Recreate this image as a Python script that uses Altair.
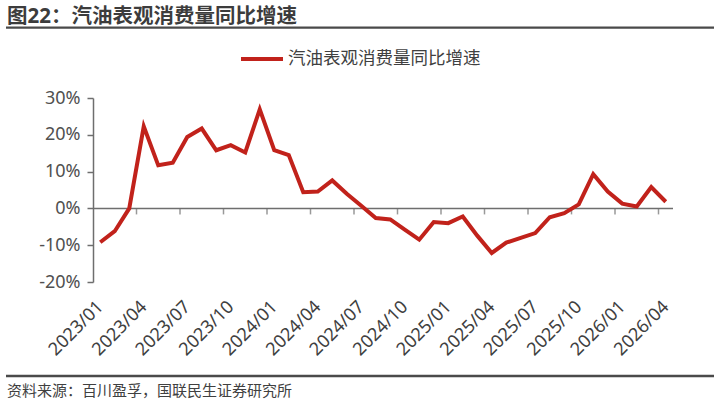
import altair as alt
import pandas as pd

title_text = "图22：汽油表观消费量同比增速"
series_name = "汽油表观消费量同比增速"
source_text = "资料来源：百川盈孚，国联民生证券研究所"

months = [
    "2023/01", "2023/02", "2023/03", "2023/04", "2023/05", "2023/06", "2023/07", "2023/08",
    "2023/09", "2023/10", "2023/11", "2023/12", "2024/01", "2024/02", "2024/03", "2024/04",
    "2024/05", "2024/06", "2024/07", "2024/08", "2024/09", "2024/10", "2024/11", "2024/12",
    "2025/01", "2025/02", "2025/03", "2025/04", "2025/05", "2025/06", "2025/07", "2025/08",
    "2025/09", "2025/10", "2025/11", "2025/12", "2026/01", "2026/02", "2026/03", "2026/04",
]
values = [
    -9.2, -6.2, 0.0, 22.3, 11.7, 12.4, 19.4, 21.7, 15.8, 17.2, 15.2, 26.9,
    15.8, 14.5, 4.4, 4.6, 7.6, 4.0, 0.7, -2.6, -3.0, -5.8, -8.5, -3.7,
    -4.0, -2.2, -7.4, -12.1, -9.3, -8.0, -6.7, -2.4, -1.3, 1.1, 9.3, 4.6,
    1.3, 0.5, 5.8, 1.8,
]
y_ticks = [-20, -10, 0, 10, 20, 30]

n = len(months)
df = pd.DataFrame({"idx": list(range(n)), "month": months, "value": values, "series": series_name})
label_idx = list(range(0, n, 3))
bound_idx = [i + 0.5 for i in range(2, n - 1, 3)]
bounds = pd.DataFrame({"idx": bound_idx, "value": [0] * len(bound_idx)})

FONT = "'Noto Sans', 'Noto Sans CJK SC', sans-serif"
RED = "#C1221B"
GRAY = "#6e6e6e"
TXT = "#404040"

label_js = "[" + ",".join("'" + m + "'" for m in months) + "]"

x_scale = alt.Scale(domain=[-0.5, n - 0.5], nice=False, zero=False)
y_scale = alt.Scale(domain=[-20, 30], nice=False)
x_axis = alt.Axis(
    values=label_idx,
    labelExpr=label_js + "[datum.value]",
    labelAngle=-45,
    labelAlign="right",
    labelBaseline="middle",
    labelPadding=22,
    labelFontSize=18,
    labelColor=TXT,
    labelFont=FONT,
    domain=False,
    ticks=False,
    grid=False,
    title=None,
    labelOverlap=False,
)
y_axis = alt.Axis(
    values=y_ticks,
    labelExpr="datum.value + '%'",
    labelFontSize=18,
    labelColor="#505050",
    labelFont=FONT,
    labelPadding=7,
    labelOverlap=False,
    labelBound=False,
    labelFlush=False,
    domainColor=GRAY,
    domainWidth=1.5,
    tickColor=GRAY,
    tickSize=6,
    tickWidth=1.5,
    grid=False,
    title=None,
)

line = alt.Chart(df).mark_line(strokeWidth=4, strokeJoin="miter").encode(
    x=alt.X("idx:Q", scale=x_scale, axis=x_axis),
    y=alt.Y("value:Q", scale=y_scale, axis=y_axis),
    color=alt.Color(
        "series:N",
        scale=alt.Scale(range=[RED]),
        legend=alt.Legend(
            orient="none",
            legendX=146,
            legendY=-62,
            title=None,
            symbolType="stroke",
            symbolSize=1764,
            symbolStrokeWidth=4,
            labelFontSize=17.5,
            labelFont=FONT,
            labelColor=TXT,
            labelOffset=3,
            labelLimit=500,
            padding=0,
        ),
    ),
)

zero_rule = alt.Chart(pd.DataFrame({"value": [0]})).mark_rule(color=GRAY, strokeWidth=1.5).encode(
    y=alt.Y("value:Q", scale=y_scale, axis=y_axis)
)
tick_marks = alt.Chart(bounds).mark_tick(color=GRAY, orient="vertical", size=6, thickness=1.5, yOffset=3).encode(
    x=alt.X("idx:Q", scale=x_scale, axis=x_axis),
    y=alt.Y("value:Q", scale=y_scale, axis=y_axis),
)

one = pd.DataFrame({"t": [title_text]})
title_mark = alt.Chart(one).mark_text(
    align="left", baseline="middle", fontSize=20.5, fontWeight="bold", font=FONT, color="#3c3c3c"
).encode(x=alt.value(-86), y=alt.value(-81.5), text="t:N")
top_rule = alt.Chart(pd.DataFrame({"a": [1]})).mark_rule(color="#4a4a4a", strokeWidth=2.3).encode(
    x=alt.value(-87), x2=alt.value(621), y=alt.value(-70.3)
)
bottom_rule = alt.Chart(pd.DataFrame({"a": [1]})).mark_rule(color="#4a4a4a", strokeWidth=2.3).encode(
    x=alt.value(-87), x2=alt.value(621), y=alt.value(278)
)
src_mark = alt.Chart(pd.DataFrame({"t": [source_text]})).mark_text(
    align="left", baseline="middle", fontSize=15, font=FONT, color=TXT
).encode(x=alt.value(-86), y=alt.value(293), text="t:N")

chart = alt.layer(zero_rule, tick_marks, line, title_mark, top_rule, bottom_rule, src_mark).properties(
    width=580,
    height=184,
    autosize=alt.AutoSizeParams(type="none"),
    padding={"left": 93, "top": 98, "right": 47, "bottom": 121},
).configure(background="white").configure_view(stroke=None)

chart.save("out.html", embed_options={"renderer": "svg", "actions": False})
